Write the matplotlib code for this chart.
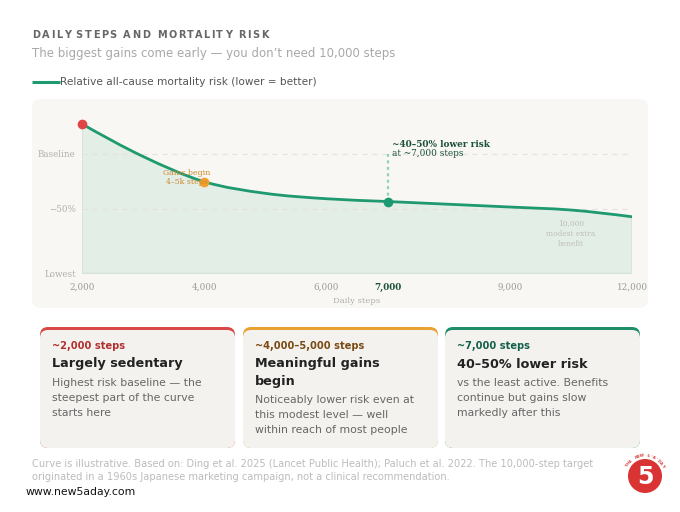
import numpy as np
import matplotlib
matplotlib.use("Agg")
import matplotlib.pyplot as plt
from matplotlib.path import Path
from matplotlib.patches import PathPatch, FancyBboxPatch, Circle
from matplotlib.font_manager import FontProperties

# data (risk as % of baseline, baseline = 100)
steps = [2000, 3000, 4000, 5000, 6000, 7000, 8000, 9000, 10000, 12000]
risk = [124.6, 97.5, 76.5, 66.8, 62.3, 60.0, 57.7, 55.4, 52.9, 47.3]
tick_steps = [2000, 4000, 6000, 7000, 9000, 12000]
y_ticks = [0, 54, 100]
y_tick_labels = ["Lowest", "\u221250%", "Baseline"]

card_steps = ["~2,000 steps", "~4,000\u20135,000 steps", "~7,000 steps"]
card_titles = ["Largely sedentary", "Meaningful gains\nbegin", "40\u201350% lower risk"]
card_bodies = [
    "Highest risk baseline \u2014 the\nsteepest part of the curve\nstarts here",
    "Noticeably lower risk even at\nthis modest level \u2014 well\nwithin reach of most people",
    "vs the least active. Benefits\ncontinue but gains slow\nmarkedly after this",
]
card_accents = ["#d94848", "#e9a232", "#1f8f6a"]
card_label_colors = ["#b32f2f", "#7a4a12", "#15604a"]

GREEN = "#1f9a70"
SERIF = "DejaVu Serif"
SANS = "DejaVu Sans"
W, H = 680, 512


def monotone_path(xs, ys):
    # cubic bezier segments, monotone-x style slopes
    xs = np.asarray(xs, float)
    ys = np.asarray(ys, float)
    n = len(xs)
    h = np.diff(xs)
    s = np.diff(ys) / h
    t = np.zeros(n)
    for i in range(1, n - 1):
        p = (s[i - 1] * h[i] + s[i] * h[i - 1]) / (h[i - 1] + h[i])
        t[i] = (np.sign(s[i - 1]) + np.sign(s[i])) * min(abs(s[i - 1]), abs(s[i]), 0.5 * abs(p))
    t[0] = (3 * s[0] - t[1]) / 2
    t[-1] = (3 * s[-1] - t[-2]) / 2
    verts = [(xs[0], ys[0])]
    codes = [Path.MOVETO]
    for i in range(n - 1):
        d = h[i] / 3
        verts += [(xs[i] + d, ys[i] + d * t[i]), (xs[i + 1] - d, ys[i + 1] - d * t[i + 1]), (xs[i + 1], ys[i + 1])]
        codes += [Path.CURVE4] * 3
    return verts, codes


def spaced_text(ax, x, y, s, gap, **kw):
    # draw text with extra letter spacing (pixel coords)
    renderer = ax.figure.canvas.get_renderer()
    prop = FontProperties(family=kw.get("family", SANS), size=kw.get("fontsize", 10),
                          weight=kw.get("fontweight", "normal"))
    bar = renderer.get_text_width_height_descent("|", prop, ismath=False)[0]
    for i, ch in enumerate(s):
        w = renderer.get_text_width_height_descent(s[:i] + "|", prop, ismath=False)[0] - bar
        ax.text(x + w + i * gap, y, ch, va="center", ha="left", **kw)


fig = plt.figure(figsize=(W / 100, H / 100), dpi=100)
fig.patch.set_facecolor("white")

bg = fig.add_axes([0, 0, 1, 1])
bg.set_xlim(0, W)
bg.set_ylim(H, 0)
bg.axis("off")
bg.set_zorder(0)

# header
spaced_text(bg, 32, 35, "DAILY STEPS AND MORTALITY RISK", 1.6, family=SANS, fontsize=7,
            fontweight="bold", color="#666666")
bg.text(32, 54, "The biggest gains come early \u2014 you don\u2019t need 10,000 steps",
        fontsize=8.5, color="#a8a8a8", va="center", ha="left", family=SANS)
bg.plot([32, 60], [82, 82], color=GREEN, lw=2.2, solid_capstyle="butt")
bg.text(60, 82, "Relative all-cause mortality risk (lower = better)", fontsize=7.6,
        color="#555555", va="center", ha="left", family=SANS)

# chart panel
bg.add_patch(FancyBboxPatch((32, 99), 616, 209, boxstyle="round,pad=0,rounding_size=9",
                            facecolor="#f8f7f4", edgecolor="none"))

# cards
card_x = [40, 243, 445]
for i in range(3):
    x0 = card_x[i]
    bg.add_patch(FancyBboxPatch((x0, 327), 195, 121, boxstyle="round,pad=0,rounding_size=8",
                                facecolor=card_accents[i], edgecolor="none"))
    bg.add_patch(FancyBboxPatch((x0, 330), 195, 118, boxstyle="round,pad=0,rounding_size=8",
                                facecolor="#f3f2ef", edgecolor="none"))
    tx = x0 + 12
    bg.text(tx, 346, card_steps[i], fontsize=7.1, fontweight="bold", color=card_label_colors[i],
            va="center", ha="left", family=SANS)
    title_lines = card_titles[i].split("\n")
    for j, line in enumerate(title_lines):
        bg.text(tx, 364 + 17 * j, line, fontsize=9.2, fontweight="bold", color="#222222",
                va="center", ha="left", family=SANS)
    body_y = 364 + 17 * (len(title_lines) - 1) + 19
    for j, line in enumerate(card_bodies[i].split("\n")):
        bg.text(tx, body_y + 15 * j, line, fontsize=7.8, color="#666666",
                va="center", ha="left", family=SANS)

# footer
bg.text(32, 464, "Curve is illustrative. Based on: Ding et al. 2025 (Lancet Public Health); "
        "Paluch et al. 2022. The 10,000-step target", fontsize=7.1, color="#bcbcbc",
        va="center", ha="left", family=SANS)
bg.text(32, 477, "originated in a 1960s Japanese marketing campaign, not a clinical recommendation.",
        fontsize=7.1, color="#bcbcbc", va="center", ha="left", family=SANS)
bg.text(26, 492, "www.new5aday.com", fontsize=7.8, color="#111111", va="center", ha="left",
        family=SANS)

# logo
bg.add_patch(Circle((645, 476), 17, facecolor="#d93333", edgecolor="none"))
bg.text(645, 477, "5", fontsize=17, fontweight="bold", color="white", ha="center", va="center",
        family=SANS)
arc_txt = "THE NEW 5-A-DAY"
angles = np.linspace(150, 30, len(arc_txt))
for ch, a in zip(arc_txt, angles):
    r = 20.5
    bg.text(645 + r * np.cos(np.radians(a)), 476 - r * np.sin(np.radians(a)), ch, fontsize=2.6,
            fontweight="bold", color="#d93333", ha="center", va="center", rotation=a - 90,
            family=SANS)

# chart
ax = fig.add_axes([82 / W, 1 - 273.5 / H, 550 / W, (273.5 - 110) / H])
ax.set_zorder(1)
ax.patch.set_alpha(0)
xi = np.arange(len(steps))
ax.set_xlim(0, len(steps) - 1)
ax.set_ylim(0, 136.25)

verts, codes = monotone_path(xi, risk)
fill_verts = verts + [(xi[-1], 0), (xi[0], 0), (xi[0], risk[0])]
fill_codes = codes + [Path.LINETO, Path.LINETO, Path.CLOSEPOLY]
ax.add_patch(PathPatch(Path(fill_verts, fill_codes), facecolor="#e3eee7", edgecolor="#d6e2da",
                       lw=1.2, zorder=1))
for yv in y_ticks[1:]:
    ax.axhline(yv, color="#e4e2dc", lw=0.9, dashes=(4, 4), zorder=2)
ax.add_patch(PathPatch(Path(verts, codes), facecolor="none", edgecolor=GREEN, lw=2.0,
                       capstyle="round", zorder=3))

i7 = steps.index(7000)
i4 = steps.index(4000)
ax.vlines(i7, risk[i7], 100, colors="#8fd1b6", lw=1.6, linestyles=(0, (1.3, 1.6)), zorder=2)
ax.plot(0, risk[0], "o", ms=7, color="#e04444", mec="none", zorder=4, clip_on=False)
ax.plot(i4, risk[i4], "o", ms=7, color="#f0a02c", mec="none", zorder=4)
ax.plot(i7, risk[i7], "o", ms=7, color="#1c9970", mec="none", zorder=4)

ax.text(1.72, 80, "Gains begin\n4\u20135k steps", fontsize=5.6, color="#d08a2c", ha="center",
        va="center", family=SERIF, linespacing=1.25, zorder=5)
ax.text(i7 + 0.08, 107.9, "~40\u201350% lower risk", fontsize=6.4, fontweight="bold",
        color="#1a4f3c", ha="left", va="center", family=SERIF)
ax.text(i7 + 0.08, 99.6, "at ~7,000 steps", fontsize=6.4, color="#1a4f3c", ha="left",
        va="center", family=SERIF)
ax.text(steps.index(10000), 45, "10,000\nmodest extra\nbenefit", fontsize=5.4, color="#bdbdbd",
        ha="center", va="top", family=SERIF, linespacing=1.35)

for sp in ax.spines.values():
    sp.set_visible(False)
ax.set_xticks([steps.index(s) for s in tick_steps])
ax.set_xticklabels([f"{s:,}" for s in tick_steps], family=SERIF, fontsize=6.3, color="#9a9a9a")
for lab, s in zip(ax.get_xticklabels(), tick_steps):
    if s == 7000:
        lab.set_fontweight("bold")
        lab.set_color("#1a4f3c")
ax.set_yticks(y_ticks)
ax.set_yticklabels(y_tick_labels, family=SERIF, fontsize=6.3, color="#b0b0b0")
ax.tick_params(length=0)
ax.tick_params(axis="x", pad=6.5)
ax.tick_params(axis="y", pad=4.5)
bg.text(357, 301, "Daily steps", fontsize=6.1, color="#b0b0b0", ha="center", va="center",
        family=SERIF)

fig.savefig("out.png", dpi=100, facecolor="white")
